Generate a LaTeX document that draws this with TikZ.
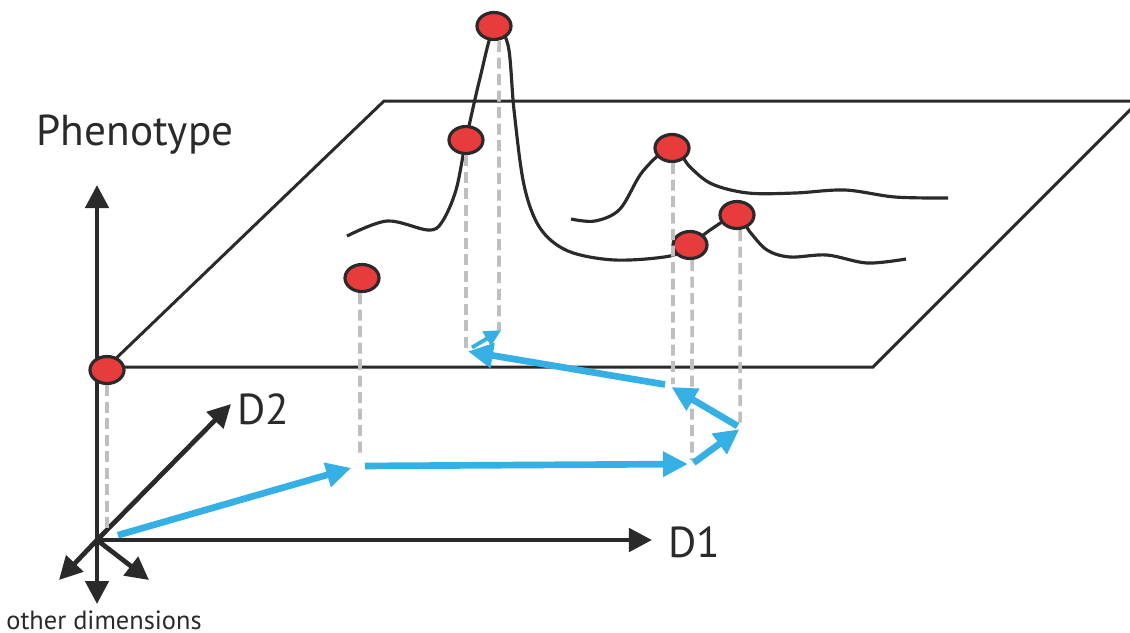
\documentclass[tikz,border=0pt]{standalone}
\usepackage{fontspec}
\setmainfont{PT Sans}
\usetikzlibrary{arrows.meta,shapes.geometric}
\definecolor{ink}{RGB}{42,42,42}
\definecolor{walkblue}{RGB}{52,176,228}
\definecolor{dotred}{RGB}{232,59,59}
\tikzstyle{axis}=[ink,line width=1.35pt,-{Triangle[length=2.3mm,width=2.3mm]}]
\tikzstyle{plane}=[ink,line width=0.85pt]
\tikzstyle{land}=[ink,line width=0.9pt]
\tikzstyle{drop}=[black!25,line width=1pt,dash pattern=on 1.1mm off 0.55mm]
\tikzstyle{walk}=[walkblue,line width=1.9pt,-{Triangle[length=2.5mm,width=2.4mm]}]
\tikzstyle{peak}=[ellipse,draw=ink,line width=0.9pt,fill=dotred,
			  minimum width=3.4mm,minimum height=2.7mm,inner sep=0pt]
\tikzstyle{lbl}=[text=ink,inner sep=0pt]

\begin{document}
\begin{tikzpicture}[x=0.01cm,y=-0.01cm,font=\fontsize{12.3}{14}\selectfont]
	\clip (0,0) rectangle (1130,632);

	% fitness plane
	\coordinate (pl1) at (107,367);
	\coordinate (pl2) at (873,367);
	\coordinate (pl3) at (1139,101);
	\coordinate (pl4) at (384,101);
	\draw[plane] (pl1) -- (pl2) -- (pl3) -- (pl4) -- cycle;

	% axes
	\coordinate (o) at (97,540);
	\coordinate (ph) at (97,185);
	\coordinate (e1) at (652,540);
	\coordinate (e2) at (231,404);
	\coordinate (od) at (97,604);
	\coordinate (odl) at (59,580);
	\coordinate (odr) at (149,580);
	\draw[axis] (o) -- (ph);
	\draw[axis] (o) -- (e1);
	\draw[axis] (o) -- (e2);
	\draw[axis] (o) -- (od);
	\draw[axis] (o) -- (odl);
	\draw[axis] (o) -- (odr);

	\node[lbl] (phen) at (135,135) {Phenotype};
	\node[lbl,anchor=west] (labD2) at (237,409) {D2};
	\node[lbl,anchor=west] (labD1) at (668,542) {D1};
	\node[lbl,font=\fontsize{7.5}{9}\selectfont] (other) at (104,620) {other dimensions};

	% landscape
	\draw[land] plot[smooth,tension=.55] coordinates {(347,236) (387,221) (428,230)
		(442,222) (456,190) (466,140) (480,78) (494,28) (508,45) (514,110) (524,185)
		(540,228) (568,251) (615,260) (670,256) (690,245) (713,228) (737,215)
		(750,232) (767,250) (790,257) (827,255) (867,263) (906,259)};
	\draw[land] plot[smooth,tension=.55] coordinates {(571,219) (595,221) (620,209)
		(643,171) (672,147) (690,167) (712,184) (748,193) (795,193) (845,190)
		(895,197) (948,198)};

	% peaks
	\node[peak] (d0) at (107,370) {};
	\node[peak] (d1) at (362,278) {};
	\node[peak] (d2) at (466,140) {};
	\node[peak] (d3) at (494,26) {};
	\node[peak] (d4) at (672,148) {};
	\node[peak] (d5) at (690,245) {};
	\node[peak] (d6) at (737,215) {};

	% projections
	\coordinate (g0) at (107,531);
	\coordinate (g1) at (360,458);
	\coordinate (g2) at (466,350);
	\coordinate (g3) at (499,330);
	\coordinate (g4) at (673,384);
	\coordinate (g5) at (692,460);
	\coordinate (g6) at (740,427);
	\draw[drop] (d0.south) -- (g0);
	\draw[drop] ([xshift=-0.2mm]d1.south) -- (g1);
	\draw[drop] (d2.south) -- (g2);
	\draw[drop] ([xshift=0.5mm]d3.south) -- (g3);
	\draw[drop] ([xshift=0.1mm]d4.south) -- (g4);
	\draw[drop] ([xshift=0.2mm]d5.south) -- (g5);
	\draw[drop] ([xshift=0.3mm]d6.south) -- (g6);

	% walk
	\coordinate (w0) at (115,536);
	\coordinate (w1) at (358,466);
	\coordinate (w2) at (692,464);
	\coordinate (w3) at (741,428);
	\coordinate (w4) at (668,385);
	\coordinate (w5) at (466,351);
	\coordinate (w6) at (503,329);
	\draw[walk,shorten <=0.3mm,shorten >=0.7mm] (w0) -- (w1);
	\draw[walk,shorten <=0.7mm,shorten >=0.4mm] (w1) -- (w2);
	\draw[walk,shorten <=0.2mm,shorten >=0.2mm] (w2) -- (w3);
	\draw[walk,shorten <=0.4mm,shorten >=0.4mm] (w3) -- (w4);
	\draw[walk,shorten <=0.3mm,shorten >=0.2mm] (w4) -- (w5);
	\draw[walk,line width=1.1pt,-{Triangle[length=1.7mm,width=1.6mm]},
		shorten <=0.7mm,shorten >=0.2mm] (w5) -- (w6);
\end{tikzpicture}
\end{document}
